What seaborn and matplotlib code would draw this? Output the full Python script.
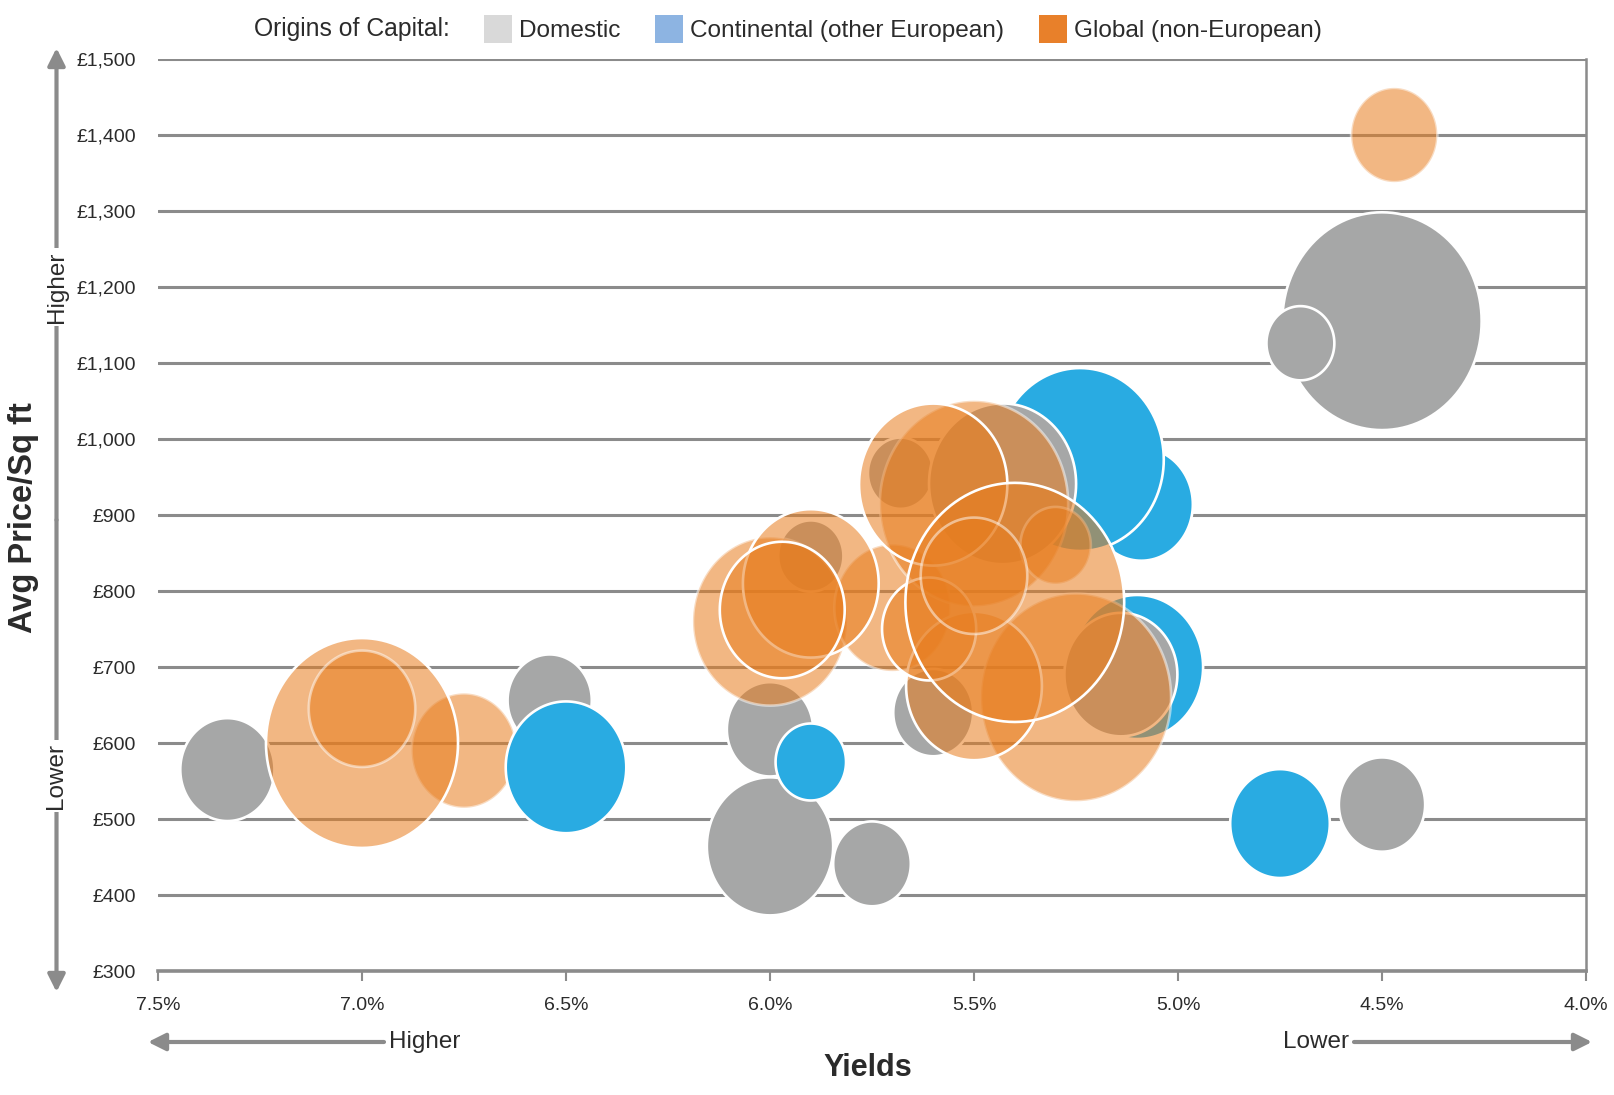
import numpy as np
import pandas as pd
import matplotlib
matplotlib.use("Agg")
import matplotlib.pyplot as plt
import seaborn as sns
from matplotlib.path import Path
from matplotlib.markers import MarkerStyle
from matplotlib.patches import Patch
from matplotlib.colors import to_rgba

# ---------------------------------------------------------------------------
# Deals: origin of capital, yield (%), average price per sq ft (£),
# and deal volume (drives bubble area). Listed in drawing order.
# ---------------------------------------------------------------------------
origin = [
    "Domestic", "Domestic", "Domestic", "Domestic", "Domestic", "Domestic",
    "Domestic", "Domestic", "Domestic", "Domestic", "Domestic",
    "Continental (other European)", "Continental (other European)",
    "Continental (other European)",
    "Domestic", "Domestic",
    "Global (non-European)", "Global (non-European)", "Global (non-European)",
    "Global (non-European)", "Global (non-European)", "Global (non-European)",
    "Global (non-European)", "Global (non-European)", "Global (non-European)",
    "Global (non-European)", "Global (non-European)", "Global (non-European)",
    "Global (non-European)", "Global (non-European)", "Global (non-European)",
    "Global (non-European)",
    "Continental (other European)", "Continental (other European)",
    "Continental (other European)",
]
yield_pct = [
    7.33, 6.54, 6.00, 6.00, 5.75, 4.50, 4.70, 4.50, 5.60, 5.68, 5.90,
    5.10, 5.09, 5.24,
    5.14, 5.43,
    4.47, 6.75, 7.00, 7.00, 6.00, 5.70, 5.90, 5.97, 5.25, 5.50, 5.60, 5.30,
    5.50, 5.61, 5.40, 5.50,
    6.50, 5.90, 4.75,
]
price = [
    565, 656, 618, 464, 441, 1155, 1126, 519, 640, 955, 846,
    700, 914, 973,
    690, 941,
    1400, 590, 600, 645, 760, 778, 810, 775, 660, 915, 940, 860,
    675, 750, 785, 820,
    568, 575, 494,
]
volume = [
    25, 20, 21, 45, 17, 112, 13, 21, 18, 12, 12,
    49, 30, 79,
    36, 61,
    21, 31, 104, 32, 67, 38, 52, 44, 102, 100, 62, 14,
    52, 25, 135, 32,
    41, 14, 28,
]
# white rim drawn solid (True) or see-through (False)
solid_rim = [
    True, True, True, True, True, True, True, True, True, True, True,
    True, True, True,
    True, True,
    False, False, True, False, False, False, True, True, False, False, True,
    False, True, True, True, False,
    True, True, True,
]

categories = ["Domestic", "Continental (other European)", "Global (non-European)"]
bubble_colors = ["#a6a7a7", "#29abe2", "#e87d1e"]
bubble_alpha = [1.0, 1.0, 0.55]
legend_colors = ["#d9d9d9", "#8db4e2", "#e8802a"]

x_ticks = [7.5, 7.0, 6.5, 6.0, 5.5, 5.0, 4.5, 4.0]
x_labels = ["7.5%", "7.0%", "6.5%", "6.0%", "5.5%", "5.0%", "4.5%", "4.0%"]
y_ticks = [300, 400, 500, 600, 700, 800, 900, 1000, 1100, 1200, 1300, 1400, 1500]
y_labels = ["£300", "£400", "£500", "£600", "£700", "£800", "£900", "£1,000",
            "£1,100", "£1,200", "£1,300", "£1,400", "£1,500"]

df = pd.DataFrame({"origin": origin, "yield_pct": yield_pct,
                   "price": price, "volume": volume})

# ---------------------------------------------------------------------------
sns.set_theme(style="white")
plt.rcParams["font.family"] = ["Liberation Sans Narrow", "Liberation Sans", "DejaVu Sans"]

W, H = 1614, 1095
fig = plt.figure(figsize=(W / 100, H / 100), dpi=100)


def fx(px):
    return px / W


def fy(py):
    return 1 - py / H


ax = fig.add_axes([fx(158), fy(971), fx(1586) - fx(158), fy(59) - fy(971)])

GRID = "#8b8b8b"
TEXT = "#2b2b2b"

# slightly upright ellipse used as the bubble shape
t = np.linspace(0, 2 * np.pi, 121)
ellipse = MarkerStyle(Path(np.column_stack([0.915 * np.cos(t), np.sin(t)]), closed=True))

vmax = max(volume)
area_per_unit = 219.6
palette = dict(zip(categories, bubble_colors))

sns.scatterplot(data=df, x="yield_pct", y="price", hue="origin", palette=palette,
                size="volume", sizes=(0, area_per_unit * vmax), size_norm=(0, vmax),
                marker=ellipse, linewidth=1.9, edgecolor="white",
                legend=False, ax=ax, zorder=3)

# per-bubble transparency of fill and rim
pts = ax.collections[-1]
alpha_of = dict(zip(categories, bubble_alpha))
faces = [to_rgba(palette[o], alpha_of[o]) for o in origin]
edges = [(1, 1, 1, 1.0) if s else (1, 1, 1, 0.5) for s in solid_rim]
pts.set_facecolors(faces)
pts.set_edgecolors(edges)

ax.set_xlim(7.5, 4.0)
ax.set_ylim(300, 1500)
ax.set_xticks(x_ticks)
ax.set_xticklabels(x_labels)
ax.set_yticks(y_ticks)
ax.set_yticklabels(y_labels)
ax.set_axisbelow(True)
ax.yaxis.grid(True, color=GRID, linewidth=2.2)
ax.xaxis.grid(False)
for side in ["left", "top"]:
    ax.spines[side].set_visible(False)
ax.spines["bottom"].set_color(GRID)
ax.spines["bottom"].set_linewidth(2.6)
ax.spines["right"].set_color(GRID)
ax.spines["right"].set_linewidth(1.8)
ax.tick_params(axis="x", direction="out", length=7, width=1.5, color=GRID,
               pad=12, labelsize=14, labelcolor=TEXT, bottom=True)
ax.tick_params(axis="y", length=0, pad=16, labelsize=14, labelcolor=TEXT)
ax.set_xlabel("")
ax.set_ylabel("")

# axis titles
fig.text(fx(868), fy(1068), "Yields", ha="center", va="center",
         fontsize=22, fontweight="bold", color=TEXT)
fig.text(fx(24), fy(518), "Avg Price/Sq ft", ha="center", va="center",
         rotation=90, fontsize=23.5, fontweight="bold", color=TEXT)

# direction arrows
arrow_kw = dict(arrowstyle="-|>", color=GRID, lw=3, mutation_scale=26,
                shrinkA=0, shrinkB=0)
ax.annotate("", xy=(fx(56.5), fy(48)), xytext=(fx(56.5), fy(520)),
            xycoords="figure fraction", textcoords="figure fraction",
            arrowprops=arrow_kw, annotation_clip=False)
ax.annotate("", xy=(fx(56.5), fy(992)), xytext=(fx(56.5), fy(520)),
            xycoords="figure fraction", textcoords="figure fraction",
            arrowprops=arrow_kw, annotation_clip=False)
ax.annotate("", xy=(fx(148), fy(1042)), xytext=(fx(384), fy(1042)),
            xycoords="figure fraction", textcoords="figure fraction",
            arrowprops=arrow_kw, annotation_clip=False)
ax.annotate("", xy=(fx(1592), fy(1042)), xytext=(fx(1354), fy(1042)),
            xycoords="figure fraction", textcoords="figure fraction",
            arrowprops=arrow_kw, annotation_clip=False)

box = dict(facecolor="white", edgecolor="none", pad=2.5)
fig.text(fx(56.5), fy(287), "Higher", rotation=90, ha="center", va="center",
         fontsize=17.5, color=TEXT, bbox=box)
fig.text(fx(56.5), fy(776), "Lower", rotation=90, ha="center", va="center",
         fontsize=17.5, color=TEXT, bbox=box)
fig.text(fx(389), fy(1042), "Higher", ha="left", va="center", fontsize=17.5, color=TEXT)
fig.text(fx(1349), fy(1042), "Lower", ha="right", va="center", fontsize=17.5, color=TEXT)

# legend
fig.text(fx(254), fy(29), "Origins of Capital:", ha="left", va="center",
         fontsize=17.8, color=TEXT)
handles = [Patch(facecolor=c, edgecolor="none", label=lab)
           for c, lab in zip(legend_colors, categories)]
fig.legend(handles=handles, loc="center left", bbox_to_anchor=(fx(484), fy(29)),
           ncol=3, frameon=False, fontsize=17.6, handlelength=1.15, handleheight=1.4,
           handletextpad=0.3, columnspacing=1.4, borderpad=0, borderaxespad=0,
           labelcolor=TEXT)

fig.savefig("out.png", dpi=100, facecolor="white")
